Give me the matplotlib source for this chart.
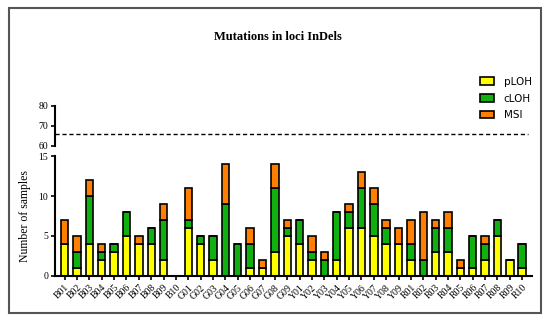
import numpy as np
import matplotlib.pyplot as plt
from matplotlib.patches import Patch, Rectangle

loci = ["B01", "B02", "B03", "B04", "B05", "B06", "B07", "B08", "B09", "B10",
        "G01", "G02", "G03", "G04", "G05", "G06", "G07", "G08", "G09",
        "Y01", "Y02", "Y03", "Y04", "Y05", "Y06", "Y07", "Y08", "Y09",
        "R01", "R02", "R03", "R04", "R05", "R06", "R07", "R08", "R09", "R10"]
ploh = [4, 1, 4, 2, 3, 5, 4, 4, 2, 0,
        6, 4, 2, 0, 0, 1, 1, 3, 5,
        4, 2, 0, 2, 6, 6, 5, 4, 4,
        2, 0, 3, 3, 1, 1, 2, 5, 2, 1]
cloh = [0, 2, 6, 1, 1, 3, 0, 2, 5, 0,
        1, 1, 3, 9, 4, 3, 0, 8, 1,
        3, 1, 2, 6, 2, 5, 4, 2, 0,
        2, 2, 3, 3, 0, 4, 2, 2, 0, 3]
msi = [3, 2, 2, 1, 0, 0, 1, 0, 2, 0,
       4, 0, 0, 5, 0, 2, 1, 3, 1,
       0, 2, 1, 0, 1, 2, 2, 1, 2,
       3, 6, 1, 2, 1, 0, 1, 0, 0, 0]
threshold = 66

colors = {"pLOH": "#ffff00", "cLOH": "#10b010", "MSI": "#ff7f00"}
serif = "Liberation Serif"

fig = plt.figure(figsize=(5.5, 3.21), dpi=100)
fig.patches.append(Rectangle((0.0164, 0.0249), 0.967, 0.950, transform=fig.transFigure,
                             fill=False, edgecolor="#555555", linewidth=1.5))

ax = fig.add_axes([0.1, 0.1402, 0.867, 0.3738])
ax_top = fig.add_axes([0.1, 0.5452, 0.867, 0.1246])

x = np.arange(len(loci))
ploh = np.array(ploh)
cloh = np.array(cloh)
msi = np.array(msi)
kw = dict(width=0.6, edgecolor="black", linewidth=1.2)
ax.bar(x, ploh, color=colors["pLOH"], **kw)
ax.bar(x, cloh, bottom=ploh, color=colors["cLOH"], **kw)
ax.bar(x, msi, bottom=ploh + cloh, color=colors["MSI"], **kw)

xl = (-0.78, len(loci) - 0.22)
ax.set_xlim(*xl)
ax.set_ylim(0, 15)
ax.set_yticks([0, 5, 10, 15])
ax.set_xticks(x)
ax.set_xticklabels(loci, rotation=45, ha="right", rotation_mode="anchor",
                   fontsize=7, family=serif)
for s in ["top", "right"]:
    ax.spines[s].set_visible(False)
for s in ["left", "bottom"]:
    ax.spines[s].set_linewidth(1.5)
ax.tick_params(axis="both", length=3, width=1.2, labelsize=7, pad=2)
for t in ax.get_yticklabels():
    t.set_family(serif)
ax.set_ylabel("Number of samples", fontsize=8.5, family=serif, labelpad=5)

ax_top.set_xlim(*xl)
ax_top.set_ylim(60, 80)
ax_top.set_yticks([60, 70, 80])
ax_top.set_xticks([])
for s in ["top", "right", "bottom"]:
    ax_top.spines[s].set_visible(False)
ax_top.spines["left"].set_linewidth(1.5)
ax_top.tick_params(axis="y", length=3, width=1.2, labelsize=7, pad=2)
for t in ax_top.get_yticklabels():
    t.set_family(serif)
ax_top.plot([xl[0], 37.45], [threshold, threshold], color="black",
            linestyle=(0, (3, 2)), linewidth=1)
ax_top.patch.set_alpha(0)

handles = [Patch(facecolor=c, edgecolor="black", linewidth=1.2, label=k)
           for k, c in colors.items()]
fig.legend(handles=handles, loc="upper left", bbox_to_anchor=(0.855, 0.79),
           frameon=False, fontsize=7.5, handlelength=1.4, handleheight=0.7,
           labelspacing=0.65, handletextpad=0.9)

fig.text(278 / 550, 1 - 37 / 321, "Mutations in loci InDels", ha="center", va="center",
         fontsize=9, fontweight="bold", family=serif)

fig.savefig("out.png", dpi=100)
